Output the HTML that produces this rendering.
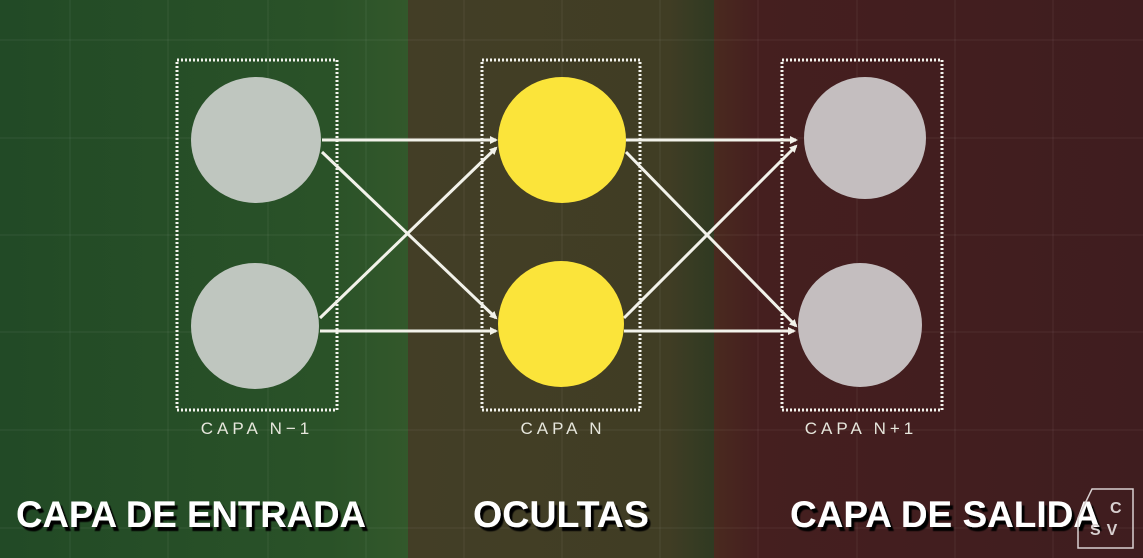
<!DOCTYPE html>
<html><head><meta charset="utf-8"><style>
html,body{margin:0;padding:0;width:1143px;height:558px;overflow:hidden;background:#234a26}
svg{display:block}
</style></head><body>
<svg width="1143" height="558" viewBox="0 0 1143 558">
<defs>
<linearGradient id="gl" x1="0" x2="1"><stop offset="0" stop-color="#224a26"/><stop offset="0.8" stop-color="#2a5228"/><stop offset="1" stop-color="#33582b"/></linearGradient>
<linearGradient id="gm" x1="0" x2="1"><stop offset="0" stop-color="#433e26"/><stop offset="0.85" stop-color="#403d24"/><stop offset="1" stop-color="#2f3a22"/></linearGradient>
<linearGradient id="gr" x1="0" x2="1"><stop offset="0" stop-color="#4a2a1f"/><stop offset="0.1" stop-color="#451f1f"/><stop offset="1" stop-color="#3f1d1f"/></linearGradient>
<marker id="ah" markerWidth="8" markerHeight="8" refX="6" refY="4" orient="auto" markerUnits="userSpaceOnUse"><path d="M0,0 L8,4 L0,8 Z" fill="#f2f2ea"/></marker>
<filter id="sh"><feDropShadow dx="3" dy="4" stdDeviation="0.5" flood-color="#000" flood-opacity="1"/></filter>
</defs>
<rect x="0" y="0" width="410" height="558" fill="url(#gl)"/>
<rect x="408" y="0" width="307" height="558" fill="url(#gm)"/>
<rect x="714" y="0" width="429" height="558" fill="url(#gr)"/>
<g stroke="#ffffff" stroke-opacity="0.07" stroke-width="1">
<line x1="70" y1="0" x2="70" y2="558"/><line x1="168" y1="0" x2="168" y2="558"/><line x1="268" y1="0" x2="268" y2="558"/><line x1="366" y1="0" x2="366" y2="558"/><line x1="464" y1="0" x2="464" y2="558"/><line x1="562" y1="0" x2="562" y2="558"/><line x1="660" y1="0" x2="660" y2="558"/><line x1="758" y1="0" x2="758" y2="558"/><line x1="857" y1="0" x2="857" y2="558"/><line x1="955" y1="0" x2="955" y2="558"/><line x1="1053" y1="0" x2="1053" y2="558"/>
<line x1="0" y1="40" x2="1143" y2="40"/><line x1="0" y1="138" x2="1143" y2="138"/><line x1="0" y1="235" x2="1143" y2="235"/><line x1="0" y1="332" x2="1143" y2="332"/><line x1="0" y1="430" x2="1143" y2="430"/><line x1="0" y1="528" x2="1143" y2="528"/>
</g>
<g fill="none" stroke="#f4f4ee" stroke-width="3" stroke-dasharray="2 2">
<rect x="177" y="60" width="160" height="350"/>
<rect x="482" y="60" width="158" height="350"/>
<rect x="782" y="60" width="160" height="350"/>
</g>
<g stroke="#f2f2ea" stroke-width="3" marker-end="url(#ah)">
<line x1="322" y1="140" x2="496" y2="140"/><line x1="322" y1="152" x2="496" y2="318"/>
<line x1="320" y1="318" x2="496" y2="148"/><line x1="320" y1="331" x2="496" y2="331"/>
<line x1="626" y1="140" x2="796" y2="140"/><line x1="626" y1="152" x2="796" y2="326"/>
<line x1="624" y1="318" x2="796" y2="146"/><line x1="624" y1="331" x2="794" y2="331"/>
</g>
<g>
<ellipse cx="256" cy="140" rx="65" ry="63" fill="#bfc6bf"/>
<ellipse cx="255" cy="326" rx="64" ry="63" fill="#bfc6bf"/>
<ellipse cx="562" cy="140" rx="64" ry="63" fill="#fbe43a"/>
<ellipse cx="561" cy="324" rx="63" ry="63" fill="#fbe43a"/>
<ellipse cx="865" cy="138" rx="61" ry="61" fill="#c4bebf"/>
<ellipse cx="860" cy="325" rx="62" ry="62" fill="#c4bebf"/>
</g>
<g font-family="'Liberation Sans', sans-serif" font-size="17" fill="#e6e6dc" text-anchor="middle" letter-spacing="4">
<text x="257" y="434">CAPA N−1</text>
<text x="563" y="434">CAPA N</text>
<text x="861" y="434">CAPA N+1</text>
</g>
<g font-family="'Liberation Sans Narrow','Liberation Sans', sans-serif" font-weight="bold" font-size="37" fill="#ffffff" filter="url(#sh)">
<text x="16" y="527" textLength="350" lengthAdjust="spacingAndGlyphs">CAPA DE ENTRADA</text>
<text x="473" y="527" textLength="176" lengthAdjust="spacingAndGlyphs">OCULTAS</text>
<text x="790" y="527" textLength="310" lengthAdjust="spacingAndGlyphs">CAPA DE SALIDA</text>
</g>
<g>
<path d="M1078,548 L1078,518 L1092,489 L1133,489 L1133,548 Z" fill="none" stroke="#d8d0d0" stroke-width="1.5"/>
<text x="1110" y="513" font-family="'Liberation Sans',sans-serif" font-weight="bold" font-size="16" fill="#d8d0d0">C</text>
<text x="1090" y="535" font-family="'Liberation Sans',sans-serif" font-weight="bold" font-size="16" fill="#d8d0d0" letter-spacing="6">SV</text>
</g>
</svg>
</body></html>
